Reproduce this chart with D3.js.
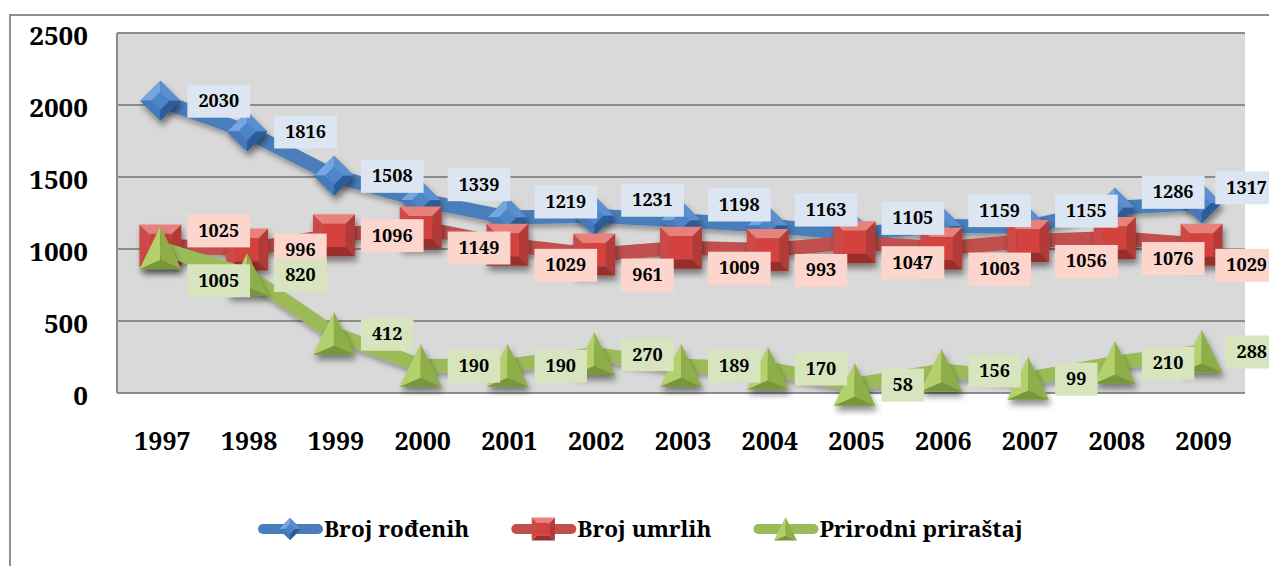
<!DOCTYPE html>
<html>
<head>
<meta charset="utf-8">
<script src="https://cdn.jsdelivr.net/npm/d3@7"></script>
<style>
  html, body { margin: 0; padding: 0; background: #fff; }
  svg { display: block; }
  text { font-family: "Noto Serif", "Liberation Serif", serif; font-weight: bold; fill: #000; }
</style>
</head>
<body>
<svg id="chart" width="1269" height="566"></svg>
<script>
const years   = ['1997', '1998', '1999', '2000', '2001', '2002', '2003', '2004', '2005', '2006', '2007', '2008', '2009'];
const rodeni  = [2030, 1816, 1508, 1339, 1219, 1231, 1198, 1163, 1105, 1159, 1155, 1286, 1317];
const umrli   = [1025, 996, 1096, 1149, 1029, 961, 1009, 993, 1047, 1003, 1056, 1076, 1029];
const prirast = [1005, 820, 412, 190, 190, 270, 189, 170, 58, 156, 99, 210, 288];
const yTicks  = [0, 500, 1000, 1500, 2000, 2500];
const seriesNames = ['Broj rođenih', 'Broj umrlih', 'Prirodni priraštaj'];

const FONT = '"Noto Serif", "Liberation Serif", serif';
const W = 1269;
const svg = d3.select('#chart');
const plot = { left: 117, right: 1245, top: 33, bottom: 393 };

const x = d3.scaleBand().domain(years).range([plot.left, plot.right]);
const y = d3.scaleLinear().domain([0, 2500]).range([plot.bottom, plot.top]);
const cx = i => x(years[i]) + x.bandwidth() / 2;

// series styling
const series = [
    { name: seriesNames[0], values: rodeni,  line: '#4a7ebb', box: '#dce6f2', shape: 'diamond' },
    { name: seriesNames[1], values: umrli,   line: '#c0504d', box: '#fcd5cc', shape: 'square' },
    { name: seriesNames[2], values: prirast, line: '#9bbb59', box: '#d7e4bd', shape: 'triangle' }
];

// defs: shadow filters
const defs = svg.append('defs');
const sh = defs.append('filter').attr('id', 'mshadow')
    .attr('x', '-50%').attr('y', '-50%').attr('width', '200%').attr('height', '200%');
sh.append('feDropShadow').attr('dx', 2).attr('dy', 5).attr('stdDeviation', 3)
    .attr('flood-color', '#000').attr('flood-opacity', 0.45);
const lsh = defs.append('filter').attr('id', 'lshadow')
    .attr('x', '-10%').attr('y', '-50%').attr('width', '120%').attr('height', '200%');
lsh.append('feDropShadow').attr('dx', 1).attr('dy', 4).attr('stdDeviation', 2.5)
    .attr('flood-color', '#000').attr('flood-opacity', 0.3);

// outer chart border
svg.append('rect')
    .attr('x', 10).attr('y', 15).attr('width', 1300).attr('height', 600)
    .attr('fill', '#fff').attr('stroke', '#8f8f8f').attr('stroke-width', 2);

// plot area
svg.append('rect')
    .attr('x', plot.left).attr('y', plot.top)
    .attr('width', plot.right - plot.left).attr('height', plot.bottom - plot.top)
    .attr('fill', '#d9d9d9');

svg.append('g').selectAll('line')
    .data(yTicks)
    .join('line')
    .attr('x1', plot.left).attr('x2', plot.right)
    .attr('y1', d => y(d)).attr('y2', d => y(d))
    .attr('stroke', '#8c8c8c').attr('stroke-width', 2);

svg.append('line')
    .attr('x1', plot.left).attr('x2', plot.left)
    .attr('y1', plot.top).attr('y2', plot.bottom)
    .attr('stroke', '#8c8c8c').attr('stroke-width', 2);

// axes
const yAxis = svg.append('g')
    .attr('transform', `translate(${plot.left},0)`)
    .call(d3.axisLeft(y).tickValues(yTicks).tickSize(0).tickPadding(29).tickFormat(d3.format('d')));
yAxis.select('.domain').remove();
yAxis.selectAll('text')
    .style('font-family', FONT)
    .style('font-weight', 'bold')
    .style('font-size', '26px')
    .attr('fill', '#000')
    .attr('dy', '0.46em');

const xAxis = svg.append('g')
    .attr('transform', `translate(0,${plot.bottom})`)
    .call(d3.axisBottom(x).tickSize(0));
xAxis.select('.domain').remove();
xAxis.selectAll('text')
    .style('font-family', FONT)
    .style('font-weight', 'bold')
    .style('font-size', '25px')
    .attr('fill', '#000')
    .attr('y', 57).attr('dy', 0).attr('dx', 2);

// marker drawing
function drawMarker(g, shape, s) {
    if (shape === 'diamond') {
        const r = 20 * s;
        g.append('path').attr('d', `M0,${-r}L${r},0L0,${r}L${-r},0Z`).attr('fill', '#3a6aa8');
        g.append('path').attr('d', `M0,${-r}L${-r},0L0,0Z`).attr('fill', '#76a6e0');
        g.append('path').attr('d', `M0,${-r}L${r},0L0,0Z`).attr('fill', '#5b8fd0');
        g.append('path').attr('d', `M${-r},0L0,${r}L0,0Z`).attr('fill', '#4479bb');
        g.append('path').attr('d', `M${r},0L0,${r}L0,0Z`).attr('fill', '#2f5c98');
        const q = r * 0.45;
        g.append('path').attr('d', `M0,${-q}L${q},0L0,${q}L${-q},0Z`).attr('fill', '#4d85c9');
    } else if (shape === 'square') {
        const r = 21 * s, q = r * 0.55;
        g.append('path').attr('d', `M${-r},${-r}L${r},${-r}L${q},${-q}L${-q},${-q}Z`).attr('fill', '#e8807b');
        g.append('path').attr('d', `M${-r},${-r}L${-q},${-q}L${-q},${q}L${-r},${r}Z`).attr('fill', '#cc4a46');
        g.append('path').attr('d', `M${r},${-r}L${r},${r}L${q},${q}L${q},${-q}Z`).attr('fill', '#b23b37');
        g.append('path').attr('d', `M${-r},${r}L${-q},${q}L${q},${q}L${r},${r}Z`).attr('fill', '#9a2f2c');
        g.append('rect').attr('x', -q).attr('y', -q).attr('width', 2 * q).attr('height', 2 * q).attr('fill', '#d3423e');
    } else {
        const r = 21 * s, top = -22 * s, bot = 21 * s, c = 12 * s;
        g.append('path').attr('d', `M0,${top}L${-r},${bot}L0,${c}Z`).attr('fill', '#b3d06c');
        g.append('path').attr('d', `M0,${top}L${r},${bot}L0,${c}Z`).attr('fill', '#8eae48');
        g.append('path').attr('d', `M${-r},${bot}L${r},${bot}L0,${c}Z`).attr('fill', '#77973a');
    }
}

// lines and markers
series.forEach(s => {
    const line = d3.line().x((d, i) => cx(i)).y(d => y(d));
    svg.append('path')
        .datum(s.values)
        .attr('d', line)
        .attr('fill', 'none')
        .attr('stroke', s.line)
        .attr('stroke-width', 14)
        .attr('stroke-linejoin', 'round')
        .attr('filter', 'url(#lshadow)');
    s.values.forEach((v, i) => {
        const g = svg.append('g')
            .attr('transform', `translate(${cx(i)},${y(v)})`)
            .attr('filter', 'url(#mshadow)');
        drawMarker(g, s.shape, 1);
    });
});

// label placement: separate labels of series that sit close together
function labelShift(i) {
    const shift = [0, 0, 0];
    if (y(umrli[i]) - y(rodeni[i]) < 45) { shift[0] = -16; shift[1] = 20; }
    if (Math.abs(y(prirast[i]) - y(umrli[i])) < 10) { shift[1] = -15; shift[2] = 32; }
    return shift;
}

const labels = svg.append('g');
series.forEach((s, k) => {
    s.values.forEach((v, i) => {
        const cy = y(v) + labelShift(i)[k];
        const g = labels.append('g');
        const r = g.append('rect').attr('fill', s.box);
        const t = g.append('text')
            .attr('dy', '0.36em')
            .style('font-size', '18px')
            .text(v);
        const w = t.node().getComputedTextLength();
        // keep the label text inside the picture, like the original does at the right edge
        const bx = Math.min(cx(i) + 27, W - 2 - w - 11);
        g.attr('transform', `translate(${bx},${cy})`);
        t.attr('x', 11).attr('y', 0);
        r.attr('x', 0).attr('y', -16).attr('width', w + 22).attr('height', 33);
    });
});

// legend
const legend = svg.append('g');
let lx = 258;
const ly = 529;
series.forEach(s => {
    const g = legend.append('g');
    g.append('line')
        .attr('x1', lx + 5).attr('x2', lx + 60)
        .attr('y1', ly).attr('y2', ly)
        .attr('stroke', s.line).attr('stroke-width', 10).attr('stroke-linecap', 'round');
    const m = g.append('g').attr('transform', `translate(${lx + 32},${ly})`);
    drawMarker(m, s.shape, 0.55);
    const t = g.append('text')
        .attr('x', lx + 66).attr('y', ly + 8)
        .style('font-size', '22.5px')
        .text(s.name);
    lx += 66 + t.node().getComputedTextLength() + 42;
});
</script>
</body>
</html>
